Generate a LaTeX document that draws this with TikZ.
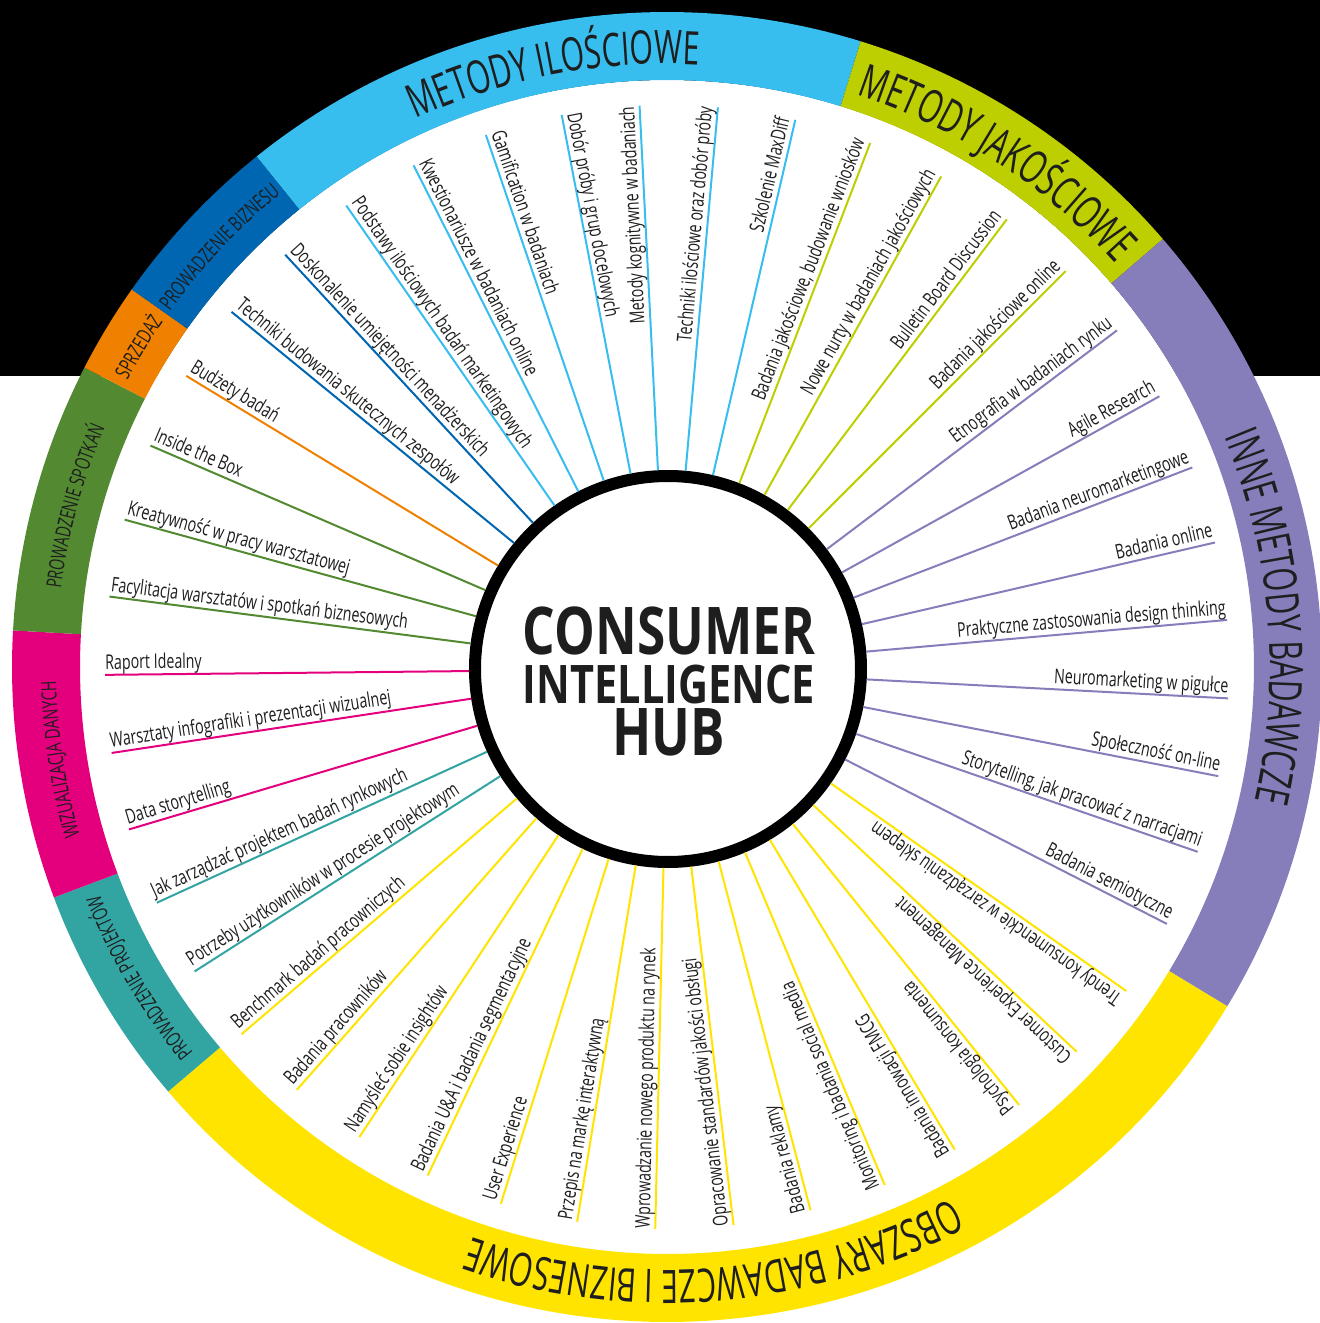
\documentclass[tikz,border=0pt]{standalone}
\usepackage{fontspec}
\setmainfont{Open Sans}
\newfontfamily\labfont[FakeStretch=0.70]{Open Sans}
\newfontfamily\ringfont[FakeStretch=0.68]{Open Sans}
\newfontfamily\ringfontB[FakeStretch=0.655]{Open Sans}
\newfontfamily\hubfont[FakeStretch=0.78]{Open Sans}
\usepackage{tikz}
\usetikzlibrary{calc}
\usetikzlibrary{decorations.text}

\definecolor{cIlo}{HTML}{38BDEF}
\definecolor{cJak}{HTML}{BDCF00}
\definecolor{cInne}{HTML}{857EBB}
\definecolor{cObs}{HTML}{FFE400}
\definecolor{cProj}{HTML}{32A5A3}
\definecolor{cWiz}{HTML}{E4007D}
\definecolor{cSpot}{HTML}{528931}
\definecolor{cSprz}{HTML}{F08000}
\definecolor{cBiz}{HTML}{0066B2}
\definecolor{txt}{HTML}{1E1E1E}

\newcommand{\bigRing}{\ringfontB\fontsize{23.1pt}{25pt}\selectfont}
\newcommand{\smallRing}{\ringfont\fontsize{10.5pt}{12pt}\selectfont}

% ring segment: colour, from angle, to angle
\newcommand{\ringSeg}[3]{%
	\fill[#1] (#2:587) arc[start angle=#2, end angle=#3, radius=587]
		-- (#3:655) arc[start angle=#3, end angle=#2, radius=655] -- cycle;}

% ring title: centre angle, half span, radius, text
\newcommand{\ringText}[4]{%
	\path[decorate, decoration={text along path, text align=center, text color=txt, text={#4}}]
		(#1+#2:#3) arc[start angle=#1+#2, end angle=#1-#2, radius=#3];}

\tikzset{
	spoke/.style={line width=1pt},
	lab/.style={font=\labfont\fontsize{10.15pt}{12pt}\selectfont, text=txt, inner sep=0pt},
	hubtxt/.style={font=\hubfont\bfseries, text=txt, inner sep=0pt, anchor=base}
}

\begin{document}
\begin{tikzpicture}[x=0.5pt, y=0.5pt]
\useasboundingbox (-667,-656) rectangle (653,667);
\clip (-667,-656) rectangle (653,667);

\fill[black] (-667,291) rectangle (653,667);
\fill[white] (0,0) circle[radius=587];

% ---

\ringSeg{cIlo}{128.8}{72.8}
\ringSeg{cJak}{72.8}{40.8}
\ringSeg{cInne}{40.8}{-31.2}
\ringSeg{cObs}{-31.2}{-139.6}
\ringSeg{cProj}{-139.6}{-159.4}
\ringSeg{cWiz}{-159.4}{-183.2}
\ringSeg{cSpot}{176.8}{152.8}
\ringSeg{cSprz}{152.8}{144.8}
\ringSeg{cBiz}{144.8}{128.8}

\ringText{100.8}{40}{603}{|\bigRing|METODY ILOŚCIOWE}
\ringText{56.8}{40}{603}{|\bigRing|METODY JAKOŚCIOWE}
\ringText{4.8}{50}{603}{|\bigRing|INNE METODY BADAWCZE}
\ringText{-85.4}{60}{603}{|\bigRing|OBSZARY BADAWCZE I BIZNESOWE}
\ringText{-149.5}{25}{611}{|\smallRing|PROWADZENIE PROJEKTÓW}
\ringText{-171.3}{25}{611}{|\smallRing|WIZUALIZACJA DANYCH}
\ringText{164.8}{25}{611}{|\smallRing|PROWADZENIE SPOTKAŃ}
\ringText{148.8}{15}{611}{|\smallRing|SPRZEDAŻ}
\ringText{136.8}{25}{611}{|\smallRing|PROWADZENIE BIZNESU}

% ---

\node[circle, draw=black, line width=6pt, fill=white, minimum size=193pt, inner sep=0pt] (hub) at (1,-2) {};

\node[hubtxt, font=\hubfont\bfseries\fontsize{32.9pt}{34pt}\selectfont] (titleA) at (2,12) {CONSUMER};
\node[hubtxt, font=\hubfont\bfseries\fontsize{26.6pt}{28pt}\selectfont] (titleB) at (2,-36) {INTELLIGENCE};
\node[hubtxt, font=\hubfont\bfseries\fontsize{32.9pt}{34pt}\selectfont] (titleC) at (2,-88) {HUB};

% ---

\foreach \lab/\col [count=\k from 0] in {
	{Raport Idealny}/cWiz,
	{Facylitacja warsztatów i spotkań biznesowych}/cSpot,
	{Kreatywność w pracy warsztatowej}/cSpot,
	{Inside the Box}/cSpot,
	{Budżety badań}/cSprz,
	{Techniki budowania skutecznych zespołów}/cBiz,
	{Doskonalenie umiejętności menadżerskich}/cBiz,
	{Podstawy ilościowych badań marketingowych}/cIlo,
	{Kwestionariusze w badaniach online}/cIlo,
	{Gamification w badaniach}/cIlo,
	{Dobór próby i grup docelowych}/cIlo,
	{Metody kognitywne w badaniach}/cIlo,
	{Techniki ilościowe oraz dobór próby}/cIlo,
	{Szkolenie MaxDiff}/cIlo,
	{Badania jakościowe, budowanie wniosków}/cJak,
	{Nowe nurty w badaniach jakościowych}/cJak,
	{Bulletin Board Discussion}/cJak,
	{Badania jakościowe online}/cJak,
	{Etnografia w badaniach rynku}/cInne,
	{Agile Research}/cInne,
	{Badania neuromarketingowe}/cInne,
	{Badania online}/cInne,
	{Praktyczne zastosowania design thinking}/cInne,
	{Neuromarketing w pigułce}/cInne,
	{Społeczność on-line}/cInne,
	{Storytelling, jak pracować z narracjami}/cInne,
	{Badania semiotyczne}/cInne,
	{Trendy konsumenckie w zarządzaniu sklepem}/cObs,
	{Customer Experience Management}/cObs,
	{Psychologia konsumenta}/cObs,
	{Badania innowacji FMCG}/cObs,
	{Monitoring i badania social media}/cObs,
	{Badania reklamy}/cObs,
	{Opracowanie standardów jakości obsługi}/cObs,
	{Wprowadzanie nowego produktu na rynek}/cObs,
	{Przepis na markę interaktywną}/cObs,
	{User Experience}/cObs,
	{Badania U\&A i badania segmentacyjne}/cObs,
	{Namyśleć sobie insightów}/cObs,
	{Badania pracowników}/cObs,
	{Benchmark badań pracowniczych}/cObs,
	{Potrzeby użytkowników w procesie projektowym}/cProj,
	{Jak zarządzać projektem badań rynkowych}/cProj,
	{Data storytelling}/cWiz,
	{Warsztaty infografiki i prezentacji wizualnej}/cWiz}
{
	\pgfmathsetmacro\a{180.8-8*\k}
	\pgfmathtruncatemacro\out{and(\k>10,\k<27)}
	\coordinate (end\k) at (\a:562);
	\draw[spoke, draw=\col] (hub) -- (end\k);
	\ifnum\out=1
		\node[lab, rotate=\a, anchor=base east] (lab\k) at ($(end\k)+(\a+90:5.5)$) {\lab};
	\else
		\node[lab, rotate=\a+180, anchor=base west] (lab\k) at ($(end\k)+(\a-90:5.5)$) {\lab};
	\fi
}

\end{tikzpicture}
\end{document}
